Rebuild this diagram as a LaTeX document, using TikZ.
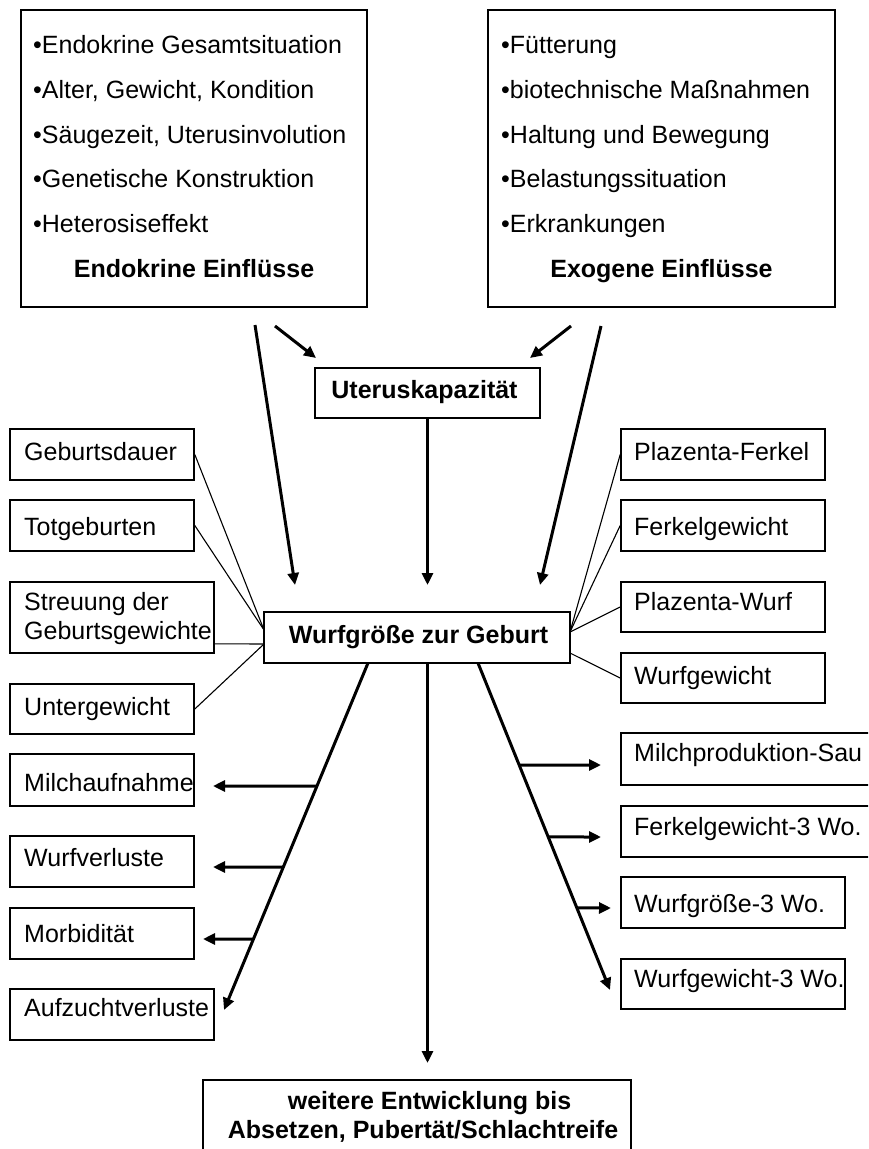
\documentclass[tikz,border=0pt]{standalone}
\usepackage{fontspec}
\setmainfont{Liberation Sans}
\usetikzlibrary{arrows.meta,calc}
\begin{document}
\begin{tikzpicture}[x=1pt,y=-1pt,
  box/.style={draw=black, line width=1.6pt, inner sep=0pt},
  txt/.style={inner sep=0pt, font=\fontsize{25}{30}\selectfont, anchor=base west},
  btxt/.style={inner sep=0pt, font=\fontsize{25}{30}\selectfont\bfseries, anchor=base},
  bigarrow/.style={line width=3pt, -{Triangle[length=12pt,width=11pt]}},
  finelink/.style={line width=1.1pt}]
\useasboundingbox (0,0) rectangle (868,1149);
\clip (0,0) rectangle (868,1149);
\fill[white] (0,0) rectangle (868,1149);

% boxes
\node[box, minimum width=346pt, minimum height=297pt] (endo) at (194,158.5) {};
\node[box, minimum width=347pt, minimum height=297pt] (exo) at (661.5,158.5) {};
\node[box, minimum width=225pt, minimum height=50pt] (uterus) at (427.5,393) {};
\node[box, minimum width=306pt, minimum height=51pt] (wurf) at (417,637.5) {};
\node[box, minimum width=184pt, minimum height=51pt] (geb) at (102,454.5) {};
\node[box, minimum width=184pt, minimum height=51pt] (tot) at (102,525.5) {};
\node[box, minimum width=204pt, minimum height=71pt] (streu) at (112,617.5) {};
\node[box, minimum width=184pt, minimum height=50pt] (unter) at (102,709) {};
\node[box, minimum width=184pt, minimum height=52pt] (milch) at (102,780) {};
\node[box, minimum width=184pt, minimum height=51pt] (wverl) at (102,861.5) {};
\node[box, minimum width=184pt, minimum height=51pt] (morb) at (102,933.5) {};
\node[box, minimum width=204pt, minimum height=51pt] (aufz) at (112,1014.5) {};
\node[box, minimum width=204pt, minimum height=51pt] (plf) at (723,454.5) {};
\node[box, minimum width=204pt, minimum height=51pt] (fkg) at (723,525.5) {};
\node[box, minimum width=204pt, minimum height=50pt] (plw) at (723,607) {};
\node[box, minimum width=204pt, minimum height=50pt] (wg) at (723,678) {};
\node[box, minimum width=259pt, minimum height=52pt] (msau) at (750.5,759) {};
\node[box, minimum width=259pt, minimum height=51pt] (fk3) at (750.5,831.5) {};
\node[box, minimum width=224pt, minimum height=51pt] (wgr3) at (733,902.5) {};
\node[box, minimum width=224pt, minimum height=50pt] (wgw3) at (733,984) {};
\node[box, minimum width=428pt, minimum height=90pt] (weiter) at (417,1125) {};

% texts top boxes
\node[txt] (e1) at (33,53) {•Endokrine Gesamtsituation};
\node[txt] (e2) at (33,98) {•Alter, Gewicht, Kondition};
\node[txt] (e3) at (33,143) {•Säugezeit, Uterusinvolution};
\node[txt] (e4) at (33,187) {•Genetische Konstruktion};
\node[txt] (e5) at (33,232) {•Heterosiseffekt};
\node[btxt] (e6) at (194,277) {Endokrine Einflüsse};
\node[txt] (x1) at (501,53) {•Fütterung};
\node[txt] (x2) at (501,98) {•biotechnische Maßnahmen};
\node[txt] (x3) at (501,143) {•Haltung und Bewegung};
\node[txt] (x4) at (501,187) {•Belastungssituation};
\node[txt] (x5) at (501,232) {•Erkrankungen};
\node[btxt] (x6) at (661.5,277) {Exogene Einflüsse};

\node[btxt] (ut) at (424.5,398) {Uteruskapazität};
\node[btxt] (wt) at (418.5,643) {Wurfgröße zur Geburt};

% left boxes texts
\node[txt] (t1) at (24,460) {Geburtsdauer};
\node[txt] (t2) at (24,535) {Totgeburten};
\node[txt] (t3) at (24,610) {Streuung der};
\node[txt] (t3b) at (24,639) {Geburtsgewichte};
\node[txt] (t4) at (24,715) {Untergewicht};
\node[txt] (t5) at (24,791) {Milchaufnahme};
\node[txt] (t6) at (24,866) {Wurfverluste};
\node[txt] (t7) at (24,942) {Morbidität};
\node[txt] (t8) at (24,1016) {Aufzuchtverluste};

% right boxes texts
\node[txt] (r1) at (634,460) {Plazenta-Ferkel};
\node[txt] (r2) at (634,535) {Ferkelgewicht};
\node[txt] (r3) at (634,610) {Plazenta-Wurf};
\node[txt] (r4) at (634,684) {Wurfgewicht};
\node[txt] (r5) at (634,761) {Milchproduktion-Sau};
\node[txt] (r6) at (634,835) {Ferkelgewicht-3 Wo.};
\node[txt] (r7) at (634,912) {Wurfgröße-3 Wo.};
\node[txt] (r8) at (634,987) {Wurfgewicht-3 Wo.};

\node[btxt] (b1) at (429.5,1109) {weitere Entwicklung bis};
\node[btxt] (b2) at (423,1138) {Absetzen, Pubertät/Schlachtreife};

% coordinates
\coordinate (eA) at (255,325);
\coordinate (eB) at (275,326);
\coordinate (xA) at (571,326);
\coordinate (xB) at (601,326);
\coordinate (tL) at (295,585);
\coordinate (tR) at (540,585);
\coordinate (tM) at (427.5,585);
\coordinate (uL) at (316,358);
\coordinate (uR) at (530,358);
\coordinate (wS) at (427.5,663);
\coordinate (dn) at (427.5,1063);
\coordinate (dl0) at (368,663);
\coordinate (dl1) at (224,1010);
\coordinate (dr0) at (478,663);
\coordinate (dr1) at (610,990);
\coordinate (lA) at (213,786);
\coordinate (lB) at (213,867);
\coordinate (lC) at (203,939);
\coordinate (rA) at (601,765);
\coordinate (rB) at (601,837);
\coordinate (rC) at (611,908);
\coordinate (wl) at (264,630);
\coordinate (wl2) at (264,644);
\coordinate (wr) at (570,632);
\coordinate (wr2) at (570,653);

% thick arrows
\draw[bigarrow] (eA) -- (tL);
\draw[bigarrow] (eB) -- (uL);
\draw[bigarrow] (xA) -- (uR);
\draw[bigarrow] (xB) -- (tR);
\draw[bigarrow] (uterus.south -| tM) -- (tM);
\draw[bigarrow] (wS) -- (dn);
\draw[bigarrow] (dl0) -- (dl1);
\draw[bigarrow] (dr0) -- (dr1);
\draw[bigarrow] ($(dl0)!0.3545!(dl1)$) -- (lA);
\draw[bigarrow] ($(dl0)!0.5879!(dl1)$) -- (lB);
\draw[bigarrow] ($(dl0)!0.7954!(dl1)$) -- (lC);
\draw[bigarrow] ($(dr0)!0.312!(dr1)$) -- (rA);
\draw[bigarrow] ($(dr0)!0.532!(dr1)$) -- (rB);
\draw[bigarrow] ($(dr0)!0.749!(dr1)$) -- (rC);

% thin links
\draw[finelink] (geb.east) -- (wl);
\draw[finelink] (tot.east) -- (wl);
\draw[finelink] ($(streu.south east)+(0,-10)$) -- (wl2);
\draw[finelink] (unter.east) -- (wl2);
\draw[finelink] (plf.west) -- (wr);
\draw[finelink] (fkg.west) -- (wr);
\draw[finelink] (plw.west) -- (wr);
\draw[finelink] (wg.west) -- (wr2);
\end{tikzpicture}
\end{document}
